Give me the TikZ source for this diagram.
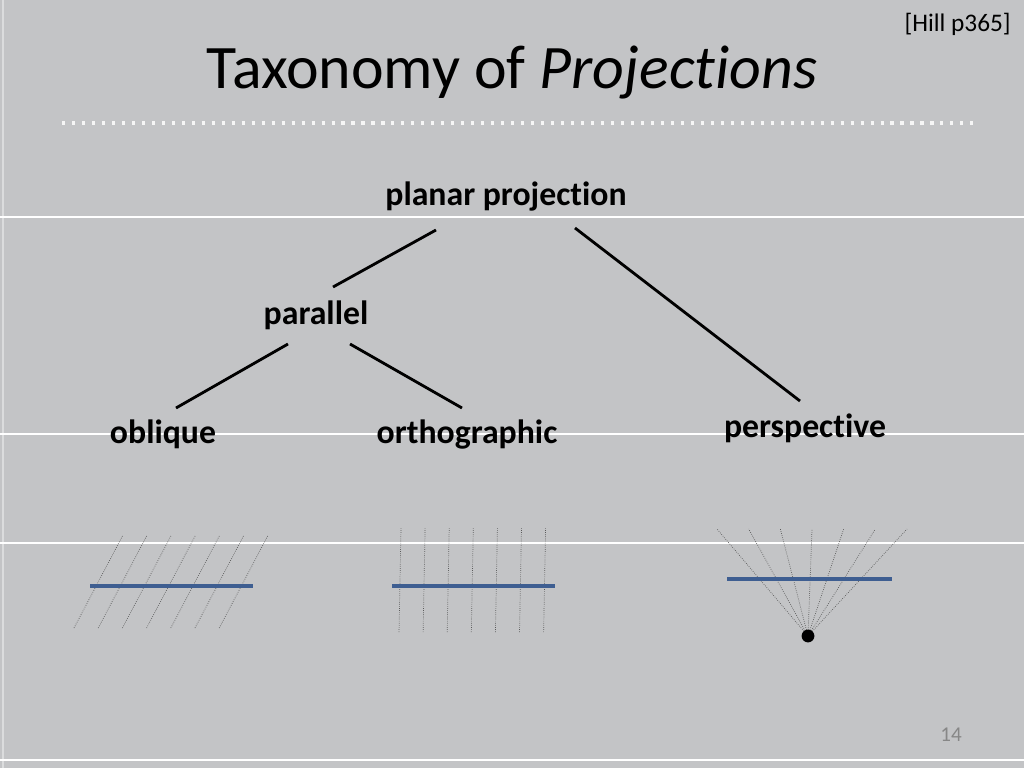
\documentclass[tikz,border=0pt]{standalone}
\usepackage{fontspec}
\setmainfont{Carlito}[Ligatures=CommonOff]
\usepackage{tikz}
\usetikzlibrary{calc}
\usepackage{xcolor}
\definecolor{slidebg}{RGB}{195,196,198}
\definecolor{barblue}{RGB}{62,94,145}
\definecolor{pagegray}{RGB}{135,135,135}
\tikzset{
cat_n/.style = {anchor=base, inner sep=0pt, font=\fontsize{24}{28}\selectfont\bfseries},% noeud de la taxonomie
tree_e/.style = {line width=2pt, black},% arete
rule_w/.style = {white, line width=1.4pt},% ligne blanche
proj_l/.style = {densely dotted, line width=0.5pt, black!65},% projecteur
plane_b/.style = {barblue, line width=2.4pt}% plan de projection
}
\begin{document}
\begin{tikzpicture}[x=0.25mm, y=-0.25mm]
	\fill[slidebg] (0,0) rectangle (1024,768);
	\useasboundingbox (0,0) rectangle (1024,768);
	\draw[white!40!slidebg, line width=0.8pt] (3,0) -- (3,768);
	\foreach \y in {217,434,543,760}
	  \draw[rule_w] (0,\y) -- (1024,\y);
	% titre
	\node[anchor=base, inner sep=0pt, font=\fontsize{44}{50}\selectfont] (title) at (512,88) {Taxonomy of \textit{Projections}};
	\draw[white!85!slidebg, line width=2.2pt, dash pattern=on 2.2pt off 4.9pt] (62,123) -- (975,123);
	\node[anchor=base east, inner sep=0pt, font=\fontsize{18}{21}\selectfont] (ref) at (1011,31) {[Hill p365]};
	\node[anchor=base, inner sep=0pt, font=\fontsize{15}{18}\selectfont, text=pagegray] (page) at (951,741) {14};
	% arbre
	\node [cat_n] (planar) at (506,205) {planar projection};
	\node [cat_n] (parallel) at (316,324) {parallel};
	\node [cat_n] (oblique) at (163,443) {oblique};
	\node [cat_n] (ortho) at (467,443) {orthographic};
	\node [cat_n] (persp) at (805,437) {perspective};
	\draw[tree_e] ([shift={(-70,25)}]planar.base) -- ([shift={(17,-37)}]parallel.base);
	\draw[tree_e] ([shift={(69,23)}]planar.base) -- ([shift={(-5,-36)}]persp.base);
	\draw[tree_e] ([shift={(-28,20)}]parallel.base) -- ([shift={(13,-35)}]oblique.base);
	\draw[tree_e] ([shift={(34,20)}]parallel.base) -- ([shift={(-5,-35)}]ortho.base);
	% oblique
	\foreach \i in {0,...,6}
	  \draw[proj_l] ({74+24.2*\i},628) -- ({123+24.2*\i},535);
	\draw[plane_b] (90,586) -- (253,586);
	% orthographic
	\foreach \i in {0,...,6}
	  \draw[proj_l] ({401+24.1*\i},528) -- ({399+24.1*\i},633);
	\draw[plane_b] (392,586) -- (555,586);
	% perspective
	\coordinate (eye) at (808,636);
	\foreach \i in {0,...,6}
	  \draw[proj_l] (eye) -- ({717+31.67*\i},529);
	\draw[plane_b] (727,579) -- (892,579);
	\fill (eye) circle[radius=1.6mm];
\end{tikzpicture}
\end{document}
